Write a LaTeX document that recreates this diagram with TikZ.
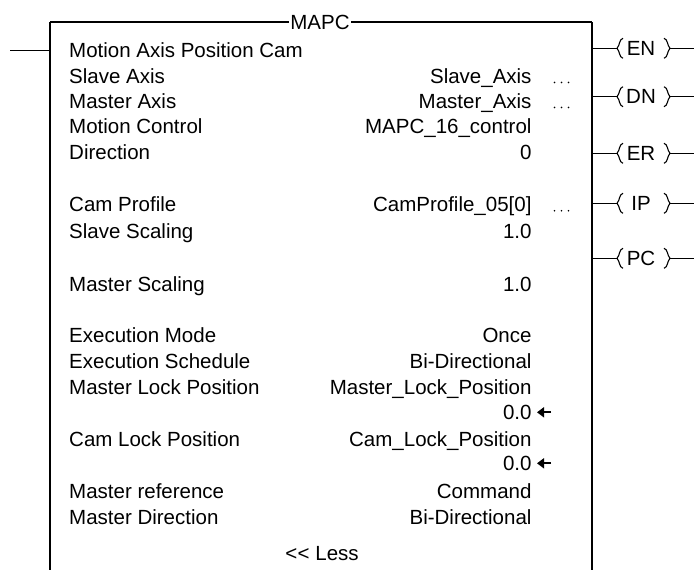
\documentclass[tikz,border=0pt]{standalone}
\usepackage{fontspec}
\setmainfont{Liberation Sans}
\usetikzlibrary{arrows.meta}
\begin{document}
\begin{tikzpicture}[x=1pt,y=-1pt,
  every node/.style={inner sep=0pt, font=\fontsize{20.5}{24}\selectfont},
  lbl/.style={anchor=base west},
  val/.style={anchor=base east},
  wire/.style={line width=1.3pt, black},
  pin/.style={line width=2.2pt, -{Triangle[length=7pt,width=10pt]}},
  coilbr/.style={line width=1.1pt}]
\useasboundingbox (0,0) rectangle (694,570);
\fill[white] (0,0) rectangle (694,570);
% title and box
\node[inner xsep=1.5pt] (title) at (320,22) {MAPC};
\coordinate (tl) at (50,22);
\coordinate (tr) at (592,22);
\coordinate (bl) at (50,570);
\coordinate (br) at (592,570);
\coordinate (in) at (10,50.7);
\coordinate (inb) at (50,50.7);
\draw[wire] (tl) -- (title.west);
\draw[wire] (title.east) -- (tr);
\draw[wire] (tl) -- (bl);
\draw[wire] (tr) -- (br);
\draw[wire] (in) -- (inb);
% labels
\node[lbl] (l1) at (69,57.4) {Motion Axis Position Cam};
\node[lbl] (l2) at (69,83.4) {Slave Axis};
\node[lbl] (l3) at (69,108.4) {Master Axis};
\node[lbl] (l4) at (69,133.4) {Motion Control};
\node[lbl] (l5) at (69,159.7) {Direction};
\node[lbl] (l6) at (69,211.7) {Cam Profile};
\node[lbl] (l7) at (69,238.4) {Slave Scaling};
\node[lbl] (l8) at (69,291) {Master Scaling};
\node[lbl] (l9) at (69,342.4) {Execution Mode};
\node[lbl] (l10) at (69,368.4) {Execution Schedule};
\node[lbl] (l11) at (69,394) {Master Lock Position};
\node[lbl] (l12) at (69,446.7) {Cam Lock Position};
\node[lbl] (l13) at (69,498.4) {Master reference};
\node[lbl] (l14) at (69,524) {Master Direction};
% values
\node[val] (v2) at (531.7,83.4) {Slave\_Axis};
\node[val] (v3) at (531.7,108.4) {Master\_Axis};
\node[val] (v4) at (531.7,133.4) {MAPC\_16\_control};
\node[val] (v5) at (531.7,159.7) {0};
\node[val] (v6) at (531.7,211.7) {CamProfile\_05[0]};
\node[val] (v7) at (531.7,238.4) {1.0};
\node[val] (v8) at (531.7,291) {1.0};
\node[val] (v9) at (531.7,342.4) {Once};
\node[val] (v10) at (531.7,368.4) {Bi-Directional};
\node[val] (v11) at (531.7,394) {Master\_Lock\_Position};
\node[val] (v11b) at (531.7,419) {0.0};
\node[val] (v12) at (531.7,446.7) {Cam\_Lock\_Position};
\node[val] (v12b) at (531.7,470) {0.0};
\node[val] (v13) at (531.7,498.4) {Command};
\node[val] (v14) at (531.7,524) {Bi-Directional};
% ellipses
\foreach \yy in {82.4,107.4,210.7}{
  \foreach \xx in {554.5,561.5,568.5}{
    \fill (\xx,\yy) circle (0.9pt);
  }
}
% pins
\coordinate (a1s) at (551,412.3); \coordinate (a1e) at (537,412.3);
\coordinate (a2s) at (551,463.3); \coordinate (a2e) at (537,463.3);
\draw[pin] (a1s) -- (a1e);
\draw[pin] (a2s) -- (a2e);
% less button
\node[anchor=base] (less) at (322,560) {<\kern0.5pt<\kern0pt{} Less};
% coils
\foreach \name/\txt/\y in {en/EN/48.3, dn/DN/96.7, er/ER/153.3, ip/IP/203.3, pc/PC/258.3}{
  \coordinate (\name-a) at (592,\y);
  \coordinate (\name-b) at (617,\y);
  \coordinate (\name-c) at (670,\y);
  \coordinate (\name-d) at (694,\y);
  \node (\name) at (641,\y) {\txt};
  \draw[wire] (\name-a) -- (\name-b);
  \draw[wire] (\name-c) -- (\name-d);
  \draw[coilbr] ([shift={(6,-10)}]\name-b) .. controls ([shift={(2,-9)}]\name-b) and ([shift={(3,-3)}]\name-b) .. (\name-b)
     .. controls ([shift={(3,3)}]\name-b) and ([shift={(2,9)}]\name-b) .. ([shift={(6,10)}]\name-b);
  \draw[coilbr] ([shift={(-6,-10)}]\name-c) .. controls ([shift={(-2,-9)}]\name-c) and ([shift={(-3,-3)}]\name-c) .. (\name-c)
     .. controls ([shift={(-3,3)}]\name-c) and ([shift={(-2,9)}]\name-c) .. ([shift={(-6,10)}]\name-c);
}
\end{tikzpicture}
\end{document}
